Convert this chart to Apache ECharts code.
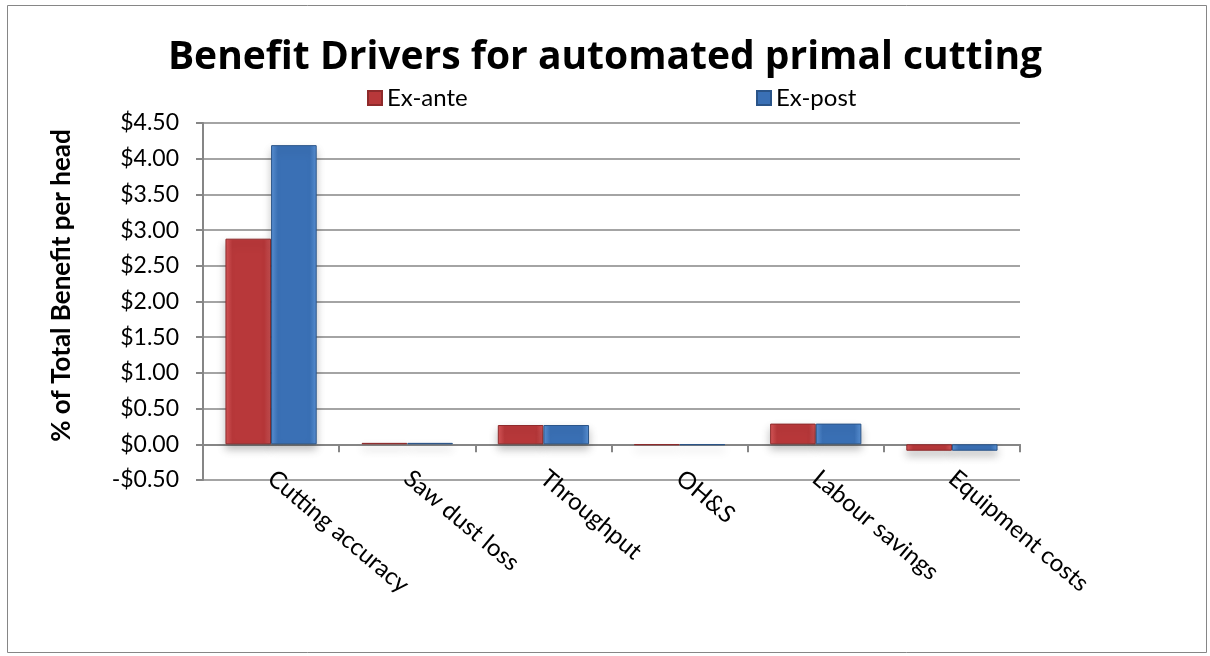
<!DOCTYPE html>
<html>
<head>
<meta charset="utf-8">
<script src="https://cdn.jsdelivr.net/npm/echarts@6/dist/echarts.min.js"></script>
<style>
    html, body {margin: 0; padding: 0; background: #fff;}
    #chart {width: 1210px; height: 656px;}
</style>
</head>
<body>
<div id="chart"></div>
<script>
// data
var categories = ['Cutting accuracy', 'Saw dust loss', 'Throughput', 'OH&S', 'Labour savings', 'Equipment costs'];
var exAnte = [2.88, 0.02, 0.27, -0.01, 0.29, -0.09];
var exPost = [4.19, 0.02, 0.27, -0.01, 0.29, -0.09];
var yTicks = {min: -0.5, max: 4.5, interval: 0.5};

var font = 'Lato, "Open Sans", sans-serif';

function grad(edge, mid) {
    return new echarts.graphic.LinearGradient(0, 0, 1, 0, [
        {offset: 0, color: edge},
        {offset: 0.15, color: mid},
        {offset: 0.85, color: mid},
        {offset: 1, color: edge}
    ]);
}

var legendText = {fontFamily: font, fontSize: 24, color: '#000'};

var chart = echarts.init(document.getElementById('chart'));
chart.setOption({
    backgroundColor: '#fff',
    animation: false,
    title: {
        text: 'Benefit Drivers for automated primal cutting',
        left: 'center',
        top: 33,
        textStyle: {fontFamily: '"Open Sans", sans-serif', fontSize: 39, fontWeight: 'bold', color: '#000'}
    },
    legend: [
        {
            top: 81, left: 362,
            itemWidth: 14, itemHeight: 14, icon: 'rect',
            textStyle: legendText,
            data: ['Ex-ante']
        },
        {
            top: 81, left: 751,
            itemWidth: 14, itemHeight: 14, icon: 'rect',
            textStyle: legendText,
            data: ['Ex-post']
        }
    ],
    grid: {left: 203, right: 190, top: 123, bottom: 176},
    xAxis: {
        type: 'category',
        data: categories,
        axisLine: {onZero: true, lineStyle: {color: '#868686', width: 2}},
        axisTick: {show: true, length: 8, lineStyle: {color: '#868686', width: 2}},
        axisLabel: {
            rotate: -40,
            margin: -5,
            fontFamily: font,
            fontSize: 24,
            color: '#000'
        }
    },
    yAxis: {
        type: 'value',
        min: yTicks.min,
        max: yTicks.max,
        interval: yTicks.interval,
        name: '% of Total Benefit per head',
        nameLocation: 'middle',
        nameGap: 128,
        nameTextStyle: {fontFamily: font, fontSize: 26, fontWeight: 'bold', color: '#000', padding: [0, 0, 0, 32]},
        axisLine: {show: true, lineStyle: {color: '#868686', width: 2}},
        axisTick: {show: true, length: 7, lineStyle: {color: '#868686', width: 2}},
        splitLine: {lineStyle: {color: '#868686', width: 1.5}},
        axisLabel: {
            fontFamily: font,
            fontSize: 23,
            color: '#000',
            margin: 24,
            formatter: function (v) {
                return (v < 0 ? '-$' : '$') + Math.abs(v).toFixed(2);
            }
        }
    },
    series: [
        {
            name: 'Ex-ante',
            type: 'bar',
            data: exAnte,
            barGap: '0%',
            barCategoryGap: '33%',
            itemStyle: {
                color: grad('#d9585a', '#b8383a'),
                borderColor: '#8e2a2b',
                borderWidth: 1,
                shadowColor: 'rgba(0,0,0,0.25)',
                shadowBlur: 8,
                shadowOffsetY: 5
            }
        },
        {
            name: 'Ex-post',
            type: 'bar',
            data: exPost,
            itemStyle: {
                color: grad('#5b93d6', '#3a70b5'),
                borderColor: '#2a5488',
                borderWidth: 1,
                shadowColor: 'rgba(0,0,0,0.25)',
                shadowBlur: 8,
                shadowOffsetY: 5
            }
        }
    ],
    graphic: [{
        type: 'rect',
        left: 5,
        top: 3,
        shape: {width: 1199, height: 647},
        style: {fill: 'none', stroke: '#868686', lineWidth: 1},
        silent: true
    }]
});
</script>
</body>
</html>
